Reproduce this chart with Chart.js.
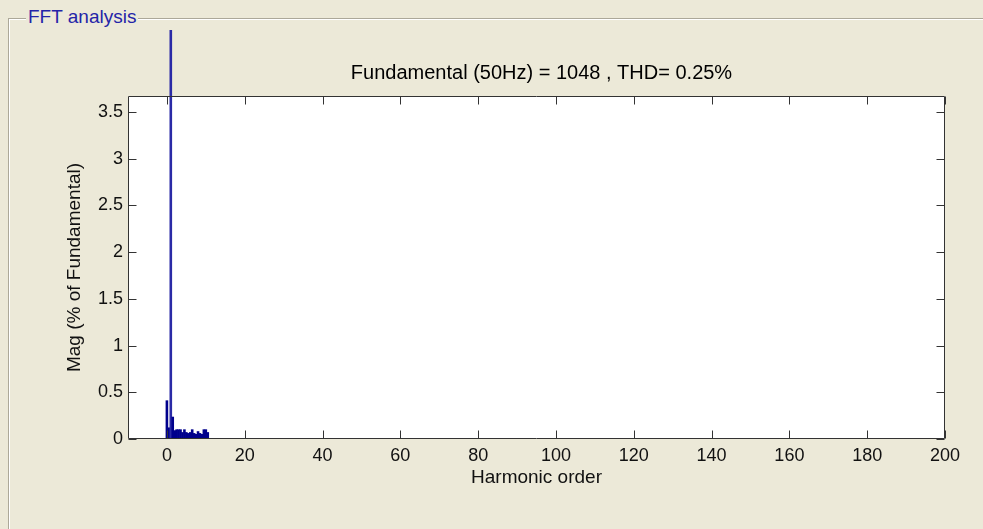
<!DOCTYPE html>
<html>
<head>
<meta charset="utf-8">
<script src="https://cdn.jsdelivr.net/npm/chart.js@4/dist/chart.umd.min.js"></script>
<style>
  html, body { margin: 0; padding: 0; background: #ECE9D8; }
  #wrap { position: relative; width: 983px; height: 529px; overflow: hidden; background: #ECE9D8; }
  #groupBox {
    position: absolute; left: 8px; top: 18px; width: 1100px; height: 700px;
    border-top: 1px solid #ACA899; border-left: 1px solid #ACA899;
    box-shadow: inset 1px 1px 0 #FFFFFF;
  }
  #groupLabel {
    position: absolute; left: 26px; top: 7px; padding: 0 2px;
    background: #ECE9D8; color: #2424A8;
    font: 19px "Liberation Sans", Arial, sans-serif; line-height: 20px;
  }
  #fft { position: absolute; left: 0; top: 0; }
</style>
</head>
<body>
<div id="wrap">
  <div id="groupBox"></div>
  <div id="groupLabel">FFT analysis</div>
  <canvas id="fft" width="983" height="529"></canvas>
</div>
<script>
// Spectrum bins (harmonic order) and magnitudes in % of the fundamental
const harmonicOrder = [0, 0.5, 1, 1.5, 2, 2.5, 3, 3.5, 4, 4.5, 5, 5.5, 6, 6.5, 7, 7.5, 8, 8.5, 9, 9.5, 10, 10.5];
const magnitude = [0.41, 0.12, 100, 0.235, 0.09, 0.1, 0.1, 0.1, 0.07, 0.1, 0.07, 0.06, 0.07, 0.1, 0.06, 0.05, 0.08, 0.06, 0.05, 0.1, 0.1, 0.07];

const xTicks = [0, 20, 40, 60, 80, 100, 120, 140, 160, 180, 200];
const yTicks = [0, 0.5, 1, 1.5, 2, 2.5, 3, 3.5];

const titleText = 'Fundamental (50Hz) = 1048 , THD= 0.25%';
const xTitle = 'Harmonic order';
const yTitle = 'Mag (% of Fundamental)';

const FONT = '"Liberation Sans", Arial, sans-serif';

// White axes box, dark frame and inward tick marks on all four sides
const axesBox = {
  id: 'axesBox',
  beforeDatasetsDraw(chart) {
    const { ctx, chartArea: a } = chart;
    ctx.save();
    ctx.fillStyle = '#FFFFFF';
    ctx.fillRect(a.left, a.top, a.right - a.left, a.bottom - a.top);
    ctx.restore();
  },
  afterDatasetsDraw(chart) {
    const { ctx, chartArea: a, scales } = chart;
    const L = Math.round(a.left) + 0.5, R = Math.round(a.right) - 0.5;
    const T = Math.round(a.top) + 0.5, B = Math.round(a.bottom) - 0.5;
    ctx.save();
    ctx.strokeStyle = '#333333';
    ctx.lineWidth = 1;
    ctx.beginPath();
    ctx.rect(L, T, R - L, B - T);
    const tk = 8;
    scales.x.ticks.forEach(t => {
      const px = Math.round(scales.x.getPixelForValue(t.value)) + 0.5;
      ctx.moveTo(px, B); ctx.lineTo(px, B - tk);
      ctx.moveTo(px, T); ctx.lineTo(px, T + tk);
    });
    scales.y.ticks.forEach(t => {
      const py = Math.round(scales.y.getPixelForValue(t.value)) + 0.5;
      ctx.moveTo(L, py); ctx.lineTo(L + tk, py);
      ctx.moveTo(R, py); ctx.lineTo(R - tk, py);
    });
    ctx.stroke();
    ctx.restore();
  }
};

// Spectrum headline centred over the axes
const headline = {
  id: 'headline',
  afterDraw(chart) {
    const { ctx, chartArea: a } = chart;
    ctx.save();
    ctx.font = '20px ' + FONT;
    ctx.fillStyle = '#000000';
    ctx.textAlign = 'center';
    ctx.textBaseline = 'middle';
    ctx.fillText(titleText, (a.left + a.right) / 2 + 5, 73);
    ctx.restore();
  }
};

new Chart(document.getElementById('fft'), {
  type: 'bar',
  data: {
    datasets: [{
      data: harmonicOrder.map((h, i) => ({ x: h, y: magnitude[i] })),
      // the fundamental stands out as a thin, slightly lighter stem
      backgroundColor: ctx => (ctx.raw && ctx.raw.y > 50 ? '#2A2AA6' : '#00008C'),
      borderWidth: 0,
      barPercentage: 1,
      categoryPercentage: 1,
      clip: { left: 0, right: 0, bottom: 0, top: 66 }
    }]
  },
  options: {
    responsive: false,
    animation: false,
    devicePixelRatio: 1,
    layout: { padding: { left: 63, right: 38, top: 96, bottom: 40 } },
    plugins: {
      legend: { display: false },
      title: { display: false },
      tooltip: { enabled: false }
    },
    scales: {
      x: {
        type: 'linear',
        min: -10,
        max: 200,
        offset: false,
        grid: { display: false, drawTicks: false },
        border: { display: false },
        afterBuildTicks(scale) { scale.ticks = xTicks.map(v => ({ value: v })); },
        afterFit(scale) { scale.height = 50; },
        ticks: {
          autoSkip: false, maxRotation: 0, padding: 6,
          color: '#111111', font: { family: FONT, size: 18 },
          callback: v => String(v)
        },
        title: {
          display: true, text: xTitle, color: '#111111', padding: 0,
          font: { family: FONT, size: 19 }
        }
      },
      y: {
        min: 0,
        max: 3.67,
        grid: { display: false, drawTicks: false },
        border: { display: false },
        afterBuildTicks(scale) { scale.ticks = yTicks.map(v => ({ value: v })); },
        afterFit(scale) { scale.width = 65; },
        ticks: {
          padding: 5, color: '#111111', font: { family: FONT, size: 18 },
          callback: v => String(v)
        },
        title: {
          display: true, text: yTitle, color: '#111111', padding: 0,
          font: { family: FONT, size: 19 }
        }
      }
    }
  },
  plugins: [axesBox, headline]
});
</script>
</body>
</html>
